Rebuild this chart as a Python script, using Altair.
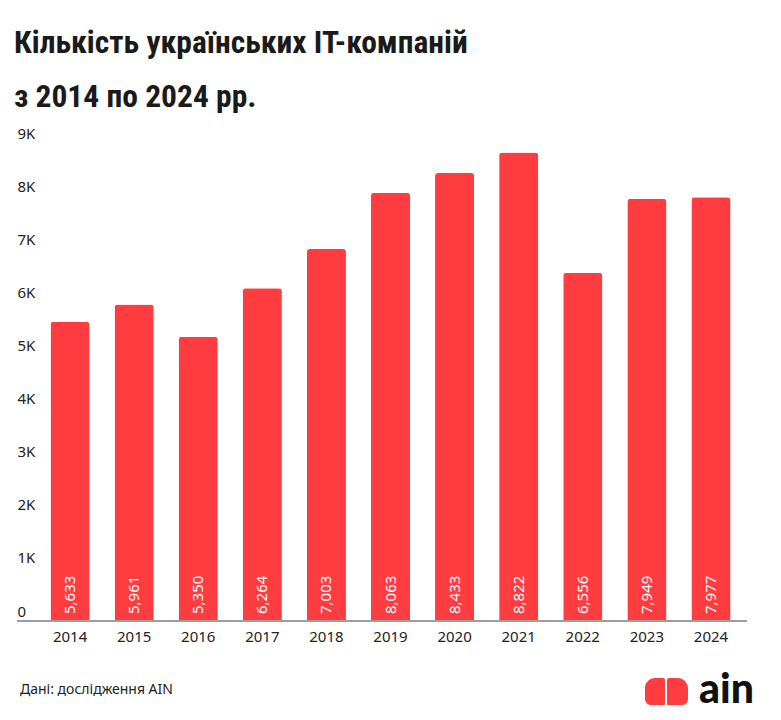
import altair as alt
import pandas as pd

# Number of Ukrainian IT companies per year
years = ["2014", "2015", "2016", "2017", "2018", "2019", "2020", "2021", "2022", "2023", "2024"]
companies = [5633, 5961, 5350, 6264, 7003, 8063, 8433, 8822, 6556, 7949, 7977]
y_ticks = [0, 1000, 2000, 3000, 4000, 5000, 6000, 7000, 8000, 9000]

title_lines = ["Кількість українських IT-компаній", "з 2014 по 2024 рр."]
source_note = "Дані: дослідження AIN"
brand = "ain"

RED = "#FF3C3F"
BODY_FONT = "Noto Sans"
TITLE_FONT = "Roboto Condensed, DejaVu Sans Condensed, Liberation Sans Narrow, Open Sans"

df = pd.DataFrame({"year": years, "count": companies})
df["label"] = [f"{v:,}" for v in companies]

x_enc = alt.X(
    "year:N",
    sort=years,
    scale=alt.Scale(paddingInner=0.39, paddingOuter=0.195),
    axis=alt.Axis(
        title=None, domain=False, ticks=False, labelAngle=0,
        labelPadding=8, labelFontSize=15, labelFont=BODY_FONT, labelColor="#222222",
    ),
)
y_enc = alt.Y(
    "count:Q",
    scale=alt.Scale(domain=[0, 9000], nice=False),
    axis=alt.Axis(
        title=None, domain=False, ticks=False, grid=False, values=y_ticks,
        labelExpr="datum.value == 0 ? '0' : (datum.value / 1000) + 'K'",
        labelAlign="left", labelBaseline="bottom", labelPadding=21, labelOffset=-2,
        labelFontSize=15, labelFont=BODY_FONT, labelColor="#222222",
    ),
)

base = alt.Chart(df)

bars = base.mark_bar(color=RED, cornerRadiusEnd=3).encode(x=x_enc, y=y_enc)

values = base.mark_text(
    angle=270, align="left", baseline="middle", dx=7,
    color="white", fontSize=15, font=BODY_FONT,
).encode(x=alt.X("year:N", sort=years), y=alt.datum(0), text="label:N")

one = alt.Chart(pd.DataFrame({"k": [0]}))

baseline = one.mark_rule(color="#9E9E9E", strokeWidth=2).encode(
    x=alt.value(-21), x2=alt.value(709), y=alt.datum(0)
)

note = one.mark_text(
    align="left", baseline="middle", fontSize=14, font=BODY_FONT, color="#222222"
).encode(x=alt.value(-18), y=alt.value(547), text=alt.value(source_note))

# brand mark: two rounded halves plus the word mark
logo_left = one.mark_rect(
    color=RED, cornerRadiusTopLeft=13, cornerRadiusBottomLeft=6,
    cornerRadiusTopRight=2, cornerRadiusBottomRight=1,
).encode(x=alt.value(607), x2=alt.value(627), y=alt.value(535), y2=alt.value(562))

logo_right = one.mark_rect(
    color=RED, cornerRadiusTopRight=13, cornerRadiusBottomRight=6,
    cornerRadiusTopLeft=2, cornerRadiusBottomLeft=1,
).encode(x=alt.value(629), x2=alt.value(650), y=alt.value(535), y2=alt.value(562))

logo_text = one.mark_text(
    align="left", baseline="alphabetic", fontSize=41, font="Lato", fontWeight=900,
    color="#111111",
).encode(x=alt.value(661), y=alt.value(560), text=alt.value(brand))

chart = (
    alt.layer(bars, values, baseline, note, logo_left, logo_right, logo_text)
    .properties(
        width=705,
        height=478,
        autosize=alt.AutoSizeParams(type="none"),
        padding={"left": 38, "top": 143, "right": 38, "bottom": 99},
        title=alt.Title(
            text=title_lines, anchor="start", dx=-2, offset=13,
            font=TITLE_FONT, fontSize=31.5, fontWeight="bold",
            lineHeight=54, color="#1A1A1A",
        ),
    )
    .configure_view(stroke=None)
)

chart.save("out.html", embed_options={"renderer": "svg", "actions": False})
